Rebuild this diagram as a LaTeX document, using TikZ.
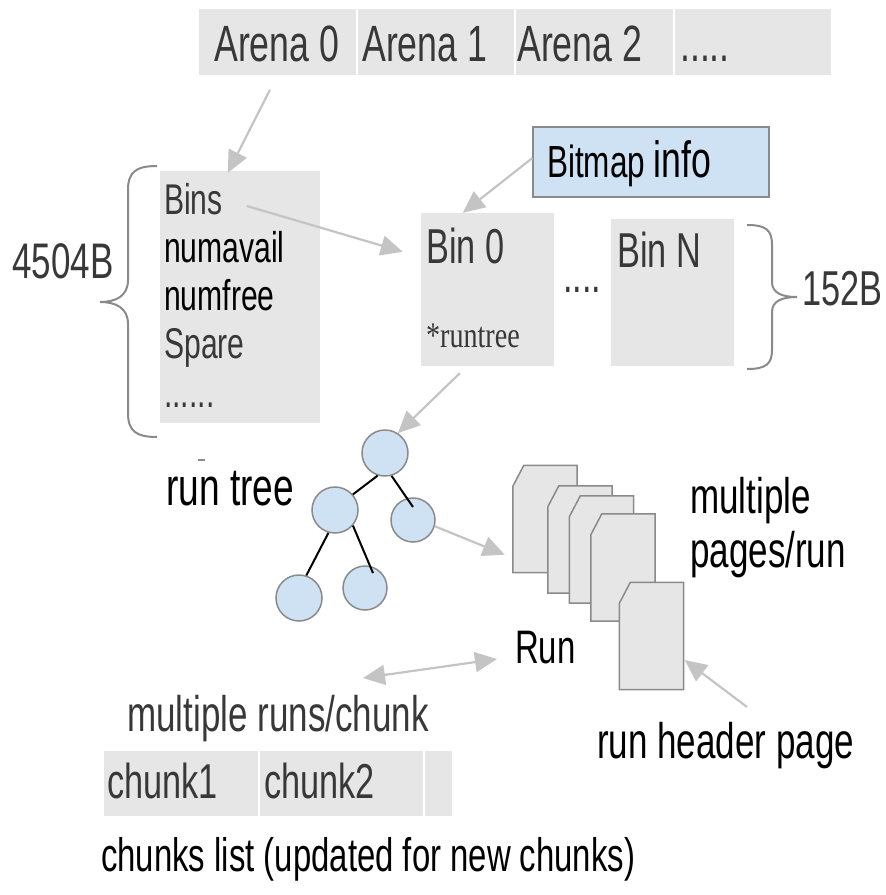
\documentclass[tikz,border=0pt]{standalone}
\usepackage{fontspec}
\setmainfont[FakeStretch=0.70]{Liberation Sans}
\newfontfamily\serifnar[FakeStretch=0.78]{Liberation Serif}
\usetikzlibrary{arrows.meta,calc}

\definecolor{boxgray}{HTML}{E6E6E6}
\definecolor{arrowgray}{HTML}{C4C4C4}
\definecolor{rimgray}{HTML}{8A8A8A}
\definecolor{paleblue}{HTML}{CFE2F3}
\definecolor{ink}{HTML}{383838}

\newcommand\fs[1]{\fontsize{#1}{#1}\selectfont}

% a page sheet with a clipped top-left corner
\newcommand\drawsheet[3]{%
  \node[sheetframe] (#1) at (#2,#3) {};
  \filldraw[sheet] (#1.south west) -- ($(#1.north west)+(0,21)$)
    -- ($(#1.north west)+(11,0)$) -- (#1.north east) -- (#1.south east) -- cycle;
}

\begin{document}
\begin{tikzpicture}[x=1pt,y=-1pt,
  cell/.style={rectangle, fill=boxgray, draw=white, line width=1.5pt, inner sep=0},
  panel/.style={rectangle, fill=boxgray, draw=none, inner sep=0},
  txt/.style={inner sep=0, anchor=base west},
  flow/.style={draw=arrowgray, line width=2.2pt, -{Triangle[length=22pt,width=20pt]}},
  twoway/.style={draw=arrowgray, line width=2.2pt, {Triangle[length=22pt,width=20pt]}-{Triangle[length=22pt,width=20pt]}},
  treenode/.style={circle, fill=paleblue, draw=rimgray, line width=1.5pt, minimum size=46pt, inner sep=0},
  treeedge/.style={draw=black, line width=2pt},
  sheetframe/.style={rectangle, draw=none, inner sep=0, minimum width=64pt, minimum height=107pt},
  sheet/.style={fill=boxgray, draw=rimgray, line width=1.5pt, line join=miter},
  bracket/.style={draw=rimgray, line width=2pt}]
\useasboundingbox (0,0) rectangle (886,895);

% arena array
\node[cell, minimum width=159pt, minimum height=68pt] (arena0) at (277.5,42) {};
\node[cell, minimum width=158pt, minimum height=68pt] (arena1) at (436,42) {};
\node[cell, minimum width=159pt, minimum height=68pt] (arena2) at (594.5,42) {};
\node[cell, minimum width=158pt, minimum height=68pt] (arenamore) at (753,42) {};
\node[txt, font=\fs{51}, text=ink] (ta0) at (214,61) {Arena 0};
\node[txt, font=\fs{51}, text=ink] (ta1) at (362,61) {Arena 1};
\node[txt, font=\fs{51}, text=ink] (ta2) at (517,61) {Arena 2};
\node[txt, font=\fs{51}, text=ink] (tam) at (680,61) {.....};

% arena header
\node[panel, minimum width=160pt, minimum height=252pt] (lbox) at (240,297) {};
\node[txt, font=\fs{43}, text=ink] (bins) at (164,214) {Bins};
\node[txt, font=\fs{43}, text=black] (numavail) at (164,262) {numavail};
\node[txt, font=\fs{43}, text=black] (numfree) at (164,310) {numfree};
\node[txt, font=\fs{43}, text=ink] (spare) at (164,358) {Spare};
\node[txt, font=\fs{43}, text=ink] (more) at (164,407) {......};

\draw[bracket] (157,166) .. controls (136,166) and (128,172) .. (128,190) -- (128,280)
  .. controls (128,296) and (116,302) .. (100,302)
  .. controls (116,302) and (128,308) .. (128,324) -- (128,413)
  .. controls (128,431) and (136,437) .. (157,437);
\node[txt, font=\fs{50}, text=ink] (size1) at (12,278) {4504B};
\draw[draw=rimgray, line width=1.5pt] (198,460) -- (205,460);

% bins
\node[panel, minimum width=133pt, minimum height=153pt] (bin0) at (487.5,289.5) {};
\node[panel, minimum width=123pt, minimum height=147pt] (binn) at (672.5,292.5) {};
\node[txt, font=\fs{49}, text=ink] (tbin0) at (426,263) {Bin 0};
\node[txt, font=\serifnar\fs{36}, text=ink] (runtree) at (426,347) {*runtree};
\node[txt, font=\fs{49}, text=ink] (tbinn) at (617,267) {Bin N};
\node[txt, font=\fs{49}, text=ink] (bindots) at (563,292) {....};

\draw[bracket] (747,225) .. controls (766,225) and (772,230) .. (772,245) -- (772,282)
  .. controls (772,293) and (782,297) .. (797,297)
  .. controls (782,297) and (772,301) .. (772,312) -- (772,350)
  .. controls (772,364) and (766,369) .. (747,369);
\node[txt, font=\fs{49}, text=ink] (size2) at (802,305) {152B};

\node[rectangle, fill=paleblue, draw=rimgray, line width=1.2pt, minimum width=236pt, minimum height=70pt, inner sep=0] (bitmap) at (651,162) {};
\node[txt, text=black] (tbitmap) at (547,177) {\fs{45}Bitmap \fs{51}info};

% run tree
\node[treenode] (root) at (385,453) {};
\node[treenode] (lc) at (335,510) {};
\node[treenode, minimum size=44pt] (rc) at (413,520) {};
\node[treenode] (bl) at (299,598) {};
\node[treenode, minimum size=44pt] (bm) at (365,588) {};
\draw[treeedge] (root.252) -- (lc.41);
\draw[treeedge] (root.-74) -- ($(rc)+(0,-13)$);
\draw[treeedge] (lc.254) -- (bl.72);
\draw[treeedge] (lc.-41) -- ($(bm)+(8,-15)$);
\node[txt, font=\fs{53}, text=black] (treelabel) at (166,505) {run tree};

% pages of a run
\drawsheet{p1}{545}{519}
\drawsheet{p2}{580}{539.5}
\drawsheet{p3}{601.5}{549.5}
\drawsheet{p4}{623}{567.5}
\drawsheet{p5}{651.5}{636}
\node[txt, font=\fs{50}, text=black] (mp1) at (690,513) {multiple};
\node[txt, font=\fs{50}, text=black] (mp2) at (690,567) {pages/run};
\node[txt, font=\fs{47}, text=black] (runlabel) at (515,663) {Run};
\node[txt, font=\fs{50}, text=black] (header) at (597,758) {run header page};

% chunks
\node[txt, font=\fs{50}, text=ink] (mrc) at (127,731) {multiple runs/chunk};
\node[cell, minimum width=156pt, minimum height=67pt] (c1) at (181,783.5) {};
\node[cell, minimum width=165pt, minimum height=67pt] (c2) at (341.5,783.5) {};
\node[cell, minimum width=29pt, minimum height=67pt] (c3) at (438.5,783.5) {};
\node[txt, font=\fs{49}, text=ink] (tc1) at (107,798) {chunk1};
\node[txt, font=\fs{49}, text=ink] (tc2) at (264,798) {chunk2};
\node[txt, font=\fs{47}, text=black] (clist) at (101,871) {chunks list (updated for new chunks)};

% connectors
\draw[flow] ($(arena0.south)+(-7.5,13)$) -- ($(lbox.north west)+(68,2)$);
\draw[flow] ($(bins.base east)+(24,-8)$) -- ($(bin0.north west)+(-18,39)$);
\draw[flow] ($(bitmap.west)+(0,-4)$) -- ($(bin0.north west)+(42,0)$);
\draw[flow] ($(bin0.south west)+(39,7)$) -- (root.57);
\draw[flow] (rc.-16) -- ($(p1.south west)+(-8,-18)$);
\draw[twoway] ($(mrc.base west)+(236,-53)$) -- ($(runlabel.base west)+(-18,-4)$);
\draw[flow] ($(header.base west)+(150,-51)$) -- ($(p5.east)+(1,24)$);
\end{tikzpicture}
\end{document}
